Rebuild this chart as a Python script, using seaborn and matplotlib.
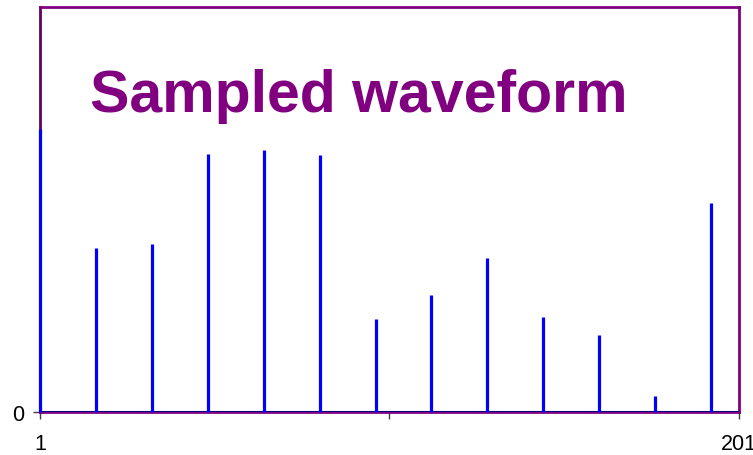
import numpy as np
import matplotlib
matplotlib.use("Agg")
import matplotlib.pyplot as plt
import seaborn as sns

# sample positions and amplitudes
sample_n = [1, 17, 33, 49, 65, 81, 97, 113, 129, 145, 161, 177, 193]
amplitude = [0.70, 0.405, 0.415, 0.637, 0.647, 0.635, 0.23, 0.289, 0.38, 0.235, 0.19, 0.04, 0.516]
x_ticks = [1, 101, 201]
x_labels = ["1", "", "201"]

sns.set_theme(style="white")
plt.rcParams['font.family'] = ['Liberation Sans', 'DejaVu Sans']

fig = plt.figure(figsize=(7.53, 4.56), dpi=100)
ax = fig.add_axes([40 / 753, 43 / 456, 699 / 753, 405 / 456])

# stems drawn over the spines so the first sample shows on the left edge
ax.vlines(sample_n, 0, amplitude, color="#0000ff", linewidth=2.3, zorder=5, clip_on=False)
ax.axhline(0, color="#000080", linewidth=1.5, zorder=4)

ax.set_xlim(1, 201)
ax.set_ylim(0, 1.0)
ax.set_xticks(x_ticks)
ax.set_xticklabels(x_labels)
ax.set_yticks([0])
ax.set_yticklabels(["0"])
ax.tick_params(axis="both", direction="out", length=5, width=1, color="#404040",
               labelsize=15.5, labelcolor="black", bottom=True, left=True, pad=10)
ax.tick_params(axis="y", pad=6)

for side in ["left", "right", "top", "bottom"]:
    ax.spines[side].set_color("#800080")
    ax.spines[side].set_linewidth(2)
ax.spines["left"].set_color("#600060")

fig.text(90 / 753, 1 - 112 / 456, "Sampled waveform", color="#800080",
         fontsize=42.5, fontweight="bold", ha="left", va="baseline")

fig.savefig("out.png", dpi=100)
